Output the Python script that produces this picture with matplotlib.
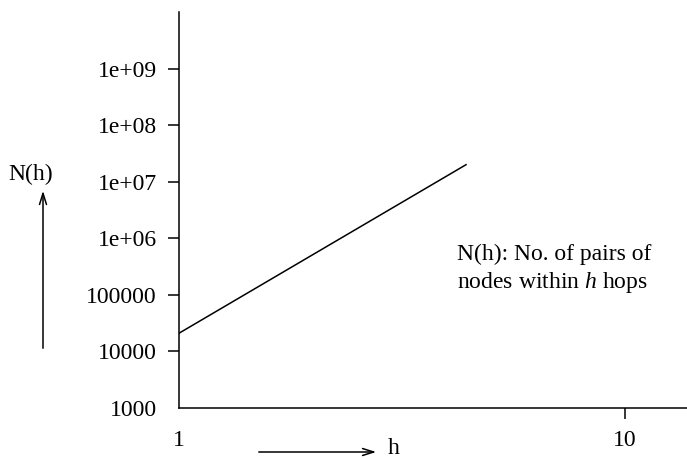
import matplotlib
matplotlib.use("Agg")
import matplotlib.pyplot as plt

plt.rcParams["font.family"] = ["Liberation Serif", "DejaVu Serif"]
plt.rcParams["mathtext.fontset"] = "custom"
plt.rcParams["mathtext.rm"] = "Liberation Serif"
plt.rcParams["mathtext.it"] = "Liberation Serif:italic"

# datos
h = [1, 4.4]
n_h = [2.1e4, 2.0e7]
x_ticks = [1, 10]
x_labels = ["1", "10"]
y_ticks = [1e3, 1e4, 1e5, 1e6, 1e7, 1e8, 1e9]
y_labels = ["1000", "10000", "100000", "1e+06", "1e+07", "1e+08", "1e+09"]

fig = plt.figure(figsize=(6.87, 4.59), dpi=100)
ax = fig.add_axes([0.2606, 0.1111, 0.7394, 0.8627])

ax.plot(h, n_h, color="black", linewidth=1.1)

ax.set_xscale("log")
ax.set_yscale("log")
ax.set_xlim(1, 13.77)
ax.set_ylim(1e3, 1e10)

ax.set_xticks(x_ticks)
ax.set_xticklabels(x_labels)
ax.set_yticks(y_ticks)
ax.set_yticklabels(y_labels)
ax.minorticks_off()
ax.tick_params(direction="out", length=8, width=1.1, labelsize=17, pad=8)

# sin marca en el origen (1, 1000)
ax.xaxis.get_major_ticks()[0].tick1line.set_visible(False)
ax.yaxis.get_major_ticks()[0].tick1line.set_visible(False)

for lado in ["top", "right"]:
    ax.spines[lado].set_visible(False)
for lado in ["left", "bottom"]:
    ax.spines[lado].set_linewidth(1.1)

ax.text(4.2, 2.8e5, "N(h): No. of pairs of\nnodes within $h$ hops",
        fontsize=17, ha="left", va="center", linespacing=1.3)

# flechas de los ejes
flecha = dict(arrowstyle="->,head_length=0.8,head_width=0.25", color="black", lw=1.1)
ax.annotate("", xy=(43 / 687, 1 - 188 / 459), xytext=(43 / 687, 1 - 351 / 459),
            xycoords="figure fraction", textcoords="figure fraction",
            arrowprops=flecha, annotation_clip=False)
fig.text(31 / 687, 1 - 174 / 459, "N(h)", fontsize=17, ha="center", va="center")

ax.annotate("", xy=(379 / 687, 1 - 452 / 459), xytext=(256 / 687, 1 - 452 / 459),
            xycoords="figure fraction", textcoords="figure fraction",
            arrowprops=flecha, annotation_clip=False)
fig.text(388 / 687, 1 - 448 / 459, "h", fontsize=17, ha="left", va="center")

fig.savefig("out.png", dpi=100)
